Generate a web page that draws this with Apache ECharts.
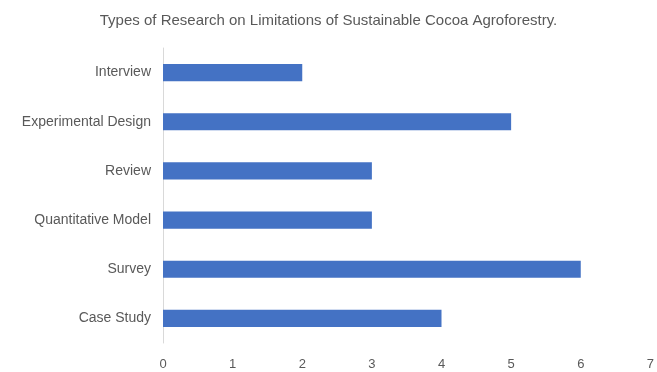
<!DOCTYPE html>
<html>
<head>
<meta charset="utf-8">
<script src="https://cdn.jsdelivr.net/npm/echarts@6/dist/echarts.min.js"></script>
<style>
  html, body { margin: 0; padding: 0; background: #ffffff; }
  #chart { width: 657px; height: 372px; }
</style>
</head>
<body>
<div id="chart"></div>
<script>
// categories listed bottom to top (ECharts category y axis starts at bottom)
const categories = ['Case Study', 'Survey', 'Quantitative Model', 'Review', 'Experimental Design', 'Interview']
const counts = [4, 6, 3, 3, 5, 2]
const xTicks = [0, 1, 2, 3, 4, 5, 6, 7]

const chart = echarts.init(document.getElementById('chart'))

const option = {
  backgroundColor: '#ffffff',
  animation: false,
  title: {
    text: 'Types of Research on Limitations of Sustainable Cocoa Agroforestry.',
    left: 'center',
    top: 8,
    textStyle: { fontFamily: 'Liberation Sans', fontSize: 15, fontWeight: 'normal', color: '#595959' }
  },
  grid: { left: 163, right: 5, top: 48, bottom: 29 },
  xAxis: {
    type: 'value',
    min: xTicks[0],
    max: xTicks[xTicks.length - 1],
    interval: 1,
    axisLine: { show: false },
    axisTick: { show: false },
    splitLine: { show: false },
    axisLabel: { color: '#595959', fontSize: 13, fontFamily: 'Liberation Sans', margin: 15 }
  },
  yAxis: {
    type: 'category',
    data: categories,
    axisLine: { show: true, lineStyle: { color: '#d9d9d9', width: 1 } },
    axisTick: { show: false },
    axisLabel: { color: '#595959', fontSize: 14, fontFamily: 'Liberation Sans', margin: 12 }
  },
  series: [
    {
      type: 'bar',
      data: counts,
      barWidth: '35%',
      itemStyle: { color: '#4472c4' }
    }
  ]
}

chart.setOption(option)
</script>
</body>
</html>
